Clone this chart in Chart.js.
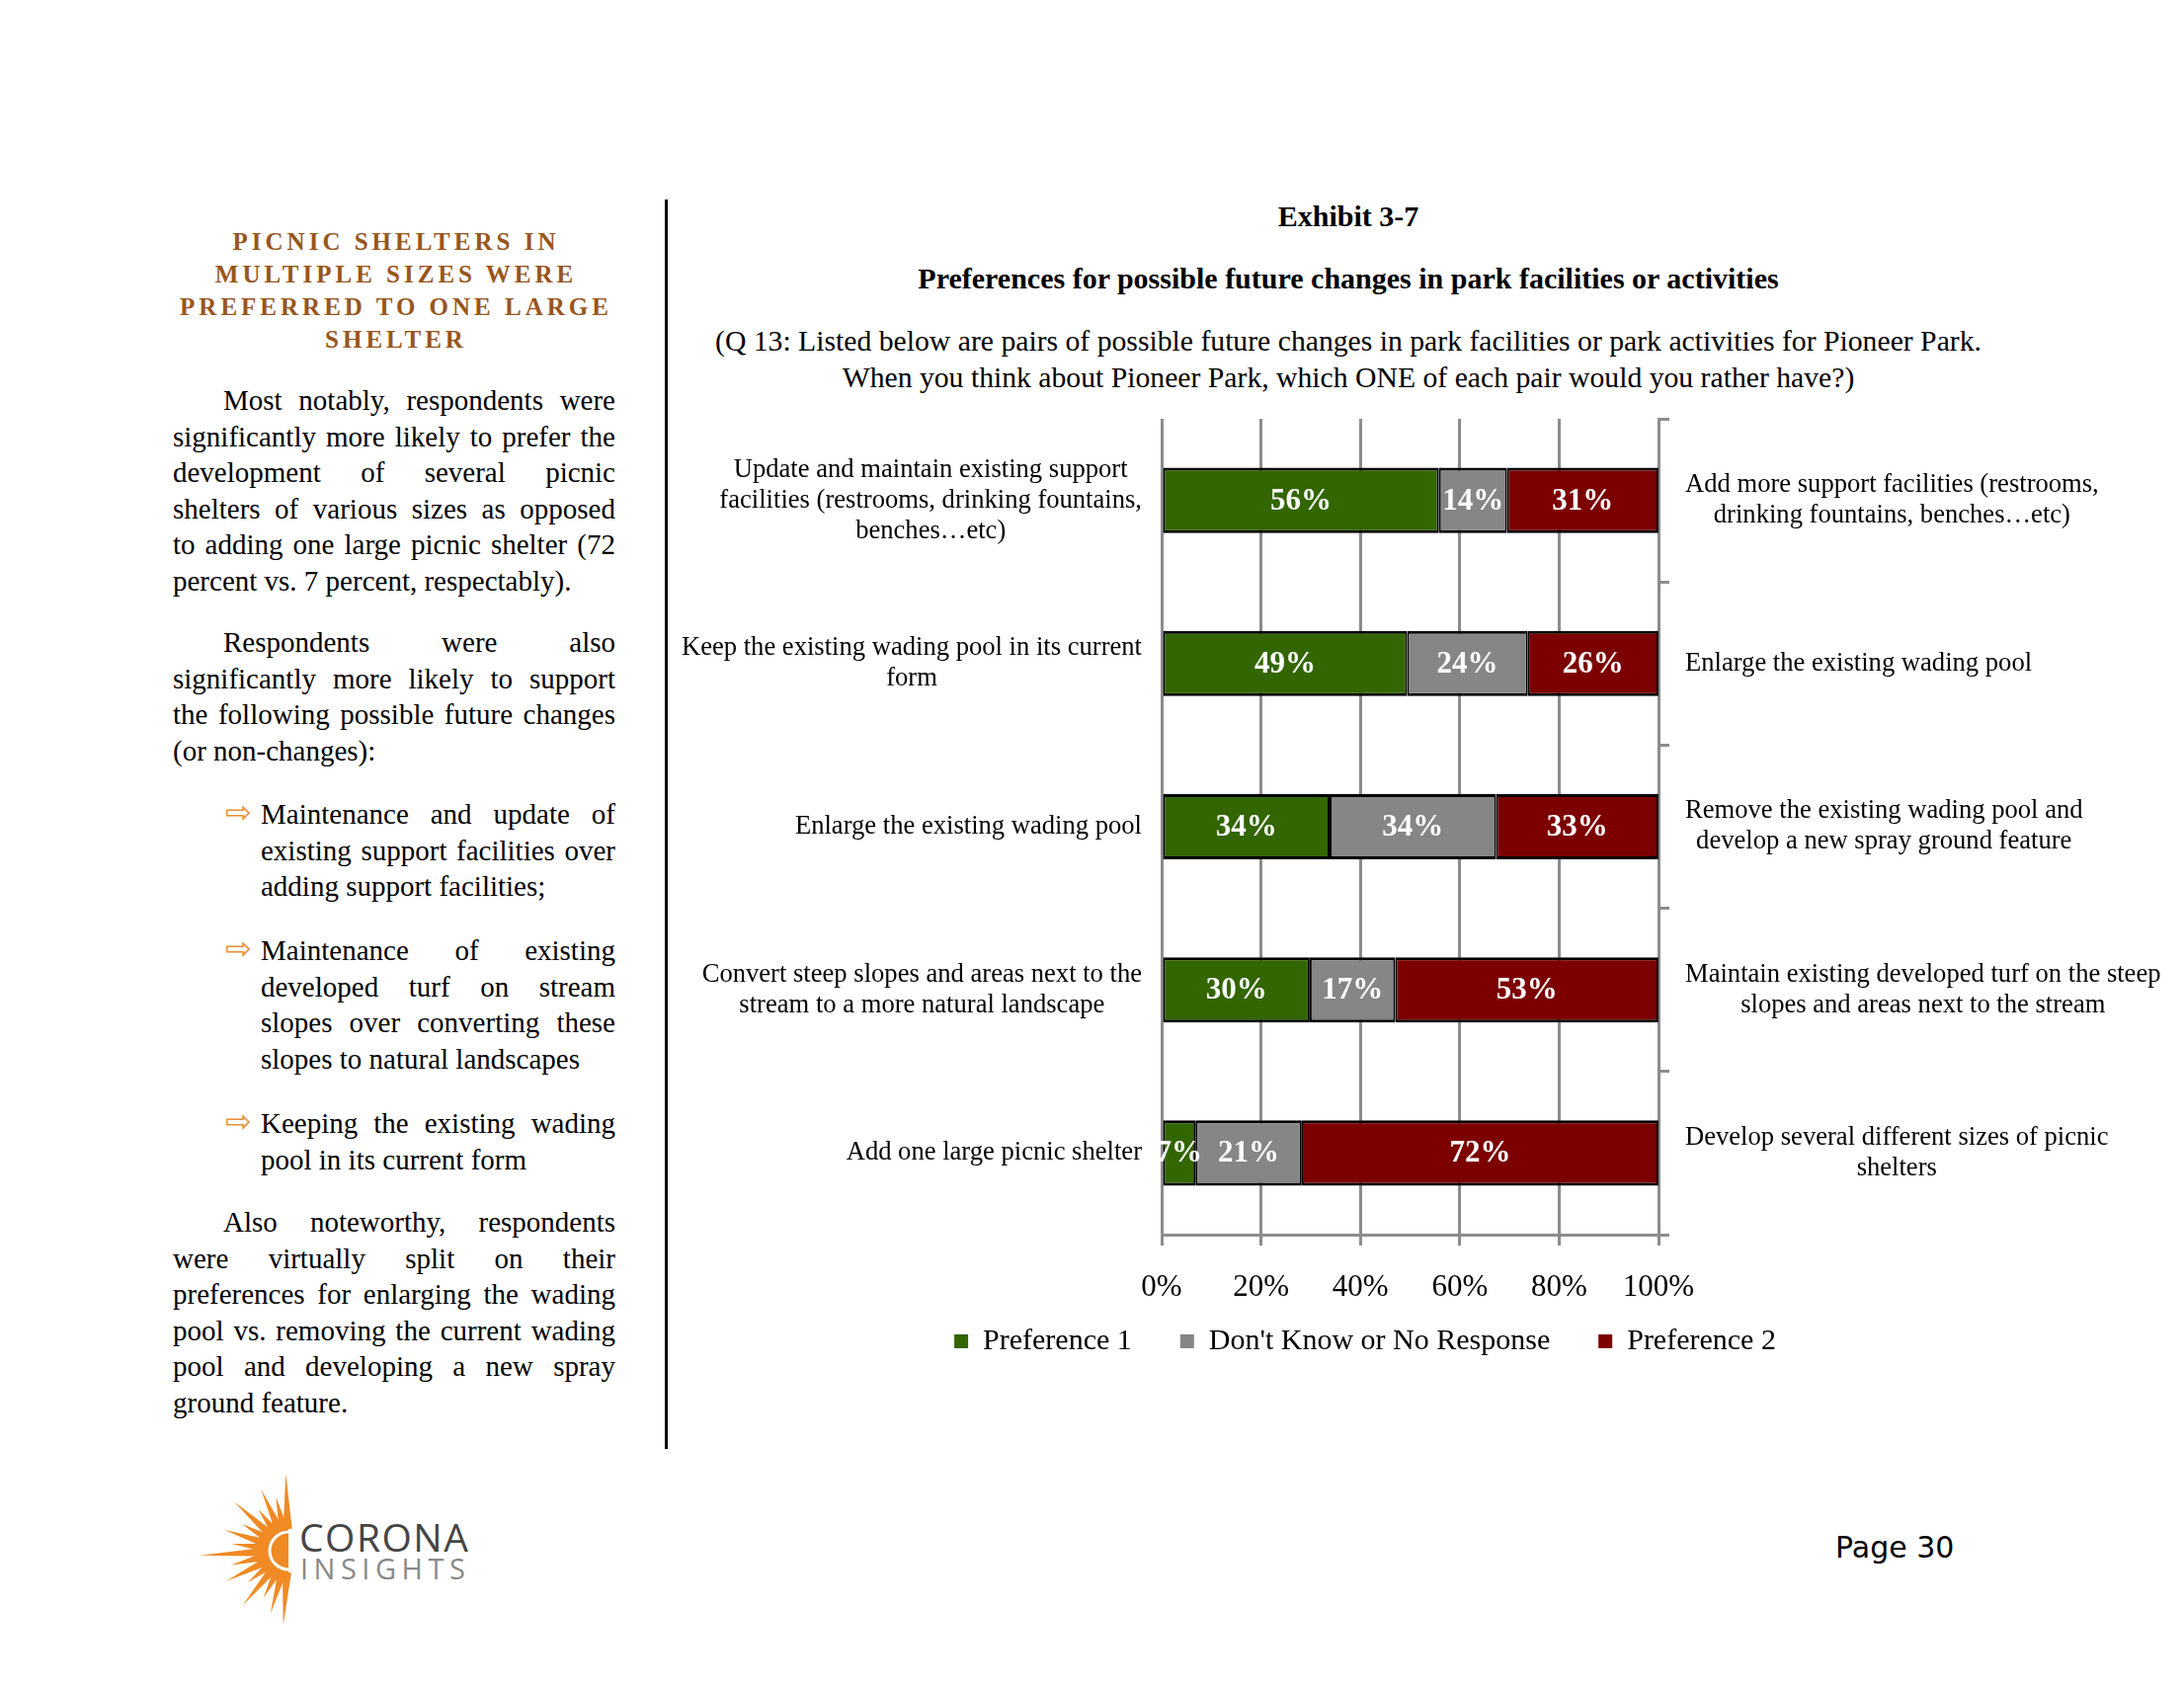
<!DOCTYPE html>
<html><head><meta charset="utf-8">
<script src="https://cdn.jsdelivr.net/npm/chart.js@4/dist/chart.umd.min.js"></script>
<style>
html,body{margin:0;padding:0;background:#fff;}
body{width:2211px;height:1709px;position:relative;overflow:hidden;font-family:"Liberation Serif",serif;color:#000;}
.abs{position:absolute;}
.hd{position:absolute;left:175px;width:452px;text-align:center;font-weight:bold;color:#98561c;font-size:25px;letter-spacing:4px;line-height:33px;}
.blk{position:absolute;font-size:29px;line-height:36.5px;}
.jl{display:flex;justify-content:space-between;white-space:nowrap;}
.ll{white-space:nowrap;}
.arrow{position:absolute;left:228px;font-family:"DejaVu Sans",sans-serif;font-size:32px;line-height:36.5px;color:#e8913a;}
.ctr{position:absolute;left:680px;width:1370px;text-align:center;white-space:nowrap;}
</style></head>
<body>
<!-- left column -->
<div class="hd" style="top:228px">PICNIC SHELTERS IN<br>MULTIPLE SIZES WERE<br>PREFERRED TO ONE LARGE<br>SHELTER</div>

<div class="blk" style="left:175px;top:387px;width:448px">
<div class="jl" style="padding-left:51px">Most notably, respondents were</div>
<div class="jl">significantly more likely to prefer the</div>
<div class="jl">development of several picnic</div>
<div class="jl">shelters of various sizes as opposed</div>
<div class="jl">to adding one large picnic shelter (72</div>
<div class="ll">percent vs. 7 percent, respectably).</div>
</div>

<div class="blk" style="left:175px;top:632px;width:448px">
<div class="jl" style="padding-left:51px">Respondents were also</div>
<div class="jl">significantly more likely to support</div>
<div class="jl">the following possible future changes</div>
<div class="ll">(or non-changes):</div>
</div>

<div class="arrow" style="top:804px">⇨</div>
<div class="blk" style="left:264px;top:806px;width:359px">
<div class="jl">Maintenance and update of</div>
<div class="jl">existing support facilities over</div>
<div class="ll">adding support facilities;</div>
</div>

<div class="arrow" style="top:942px">⇨</div>
<div class="blk" style="left:264px;top:944px;width:359px">
<div class="jl">Maintenance of existing</div>
<div class="jl">developed turf on stream</div>
<div class="jl">slopes over converting these</div>
<div class="ll">slopes to natural landscapes</div>
</div>

<div class="arrow" style="top:1117px">⇨</div>
<div class="blk" style="left:264px;top:1119px;width:359px">
<div class="jl">Keeping the existing wading</div>
<div class="ll">pool in its current form</div>
</div>

<div class="blk" style="left:175px;top:1219px;width:448px">
<div class="jl" style="padding-left:51px">Also noteworthy, respondents</div>
<div class="jl">were virtually split on their</div>
<div class="jl">preferences for enlarging the wading</div>
<div class="jl">pool vs. removing the current wading</div>
<div class="jl">pool and developing a new spray</div>
<div class="ll">ground feature.</div>
</div>

<div class="abs" style="left:673px;top:202px;width:3px;height:1265px;background:#000"></div>

<!-- chart headings -->
<div class="ctr" style="top:201px;font-size:30px;line-height:36px;font-weight:bold">Exhibit 3-7</div>
<div class="ctr" style="top:264px;font-size:30px;line-height:36px;font-weight:bold">Preferences for possible future changes in park facilities or activities</div>
<div class="ctr" style="top:327px;font-size:29.7px;line-height:37px">(Q 13: Listed below are pairs of possible future changes in park facilities or park activities for Pioneer Park.<br>When you think about Pioneer Park, which ONE of each pair would you rather have?)</div>

<canvas id="c" class="abs" style="left:680px;top:400px" width="1531" height="983"></canvas>

<!-- logo -->
<svg class="abs" style="left:190px;top:1480px" width="320" height="175" viewBox="190 1480 320 175">
  <g id="rays" fill="#f08a24"></g>
  <path d="M292,1544 A26,26 0 0 0 292,1596 Z" fill="#f08a24"/>
  <path d="M292,1551 A19,19 0 0 0 292,1589" stroke="#fff" stroke-width="3" fill="none"/>
  <text x="303" y="1571" font-family="Open Sans, DejaVu Sans, sans-serif" font-size="39" fill="#454545" letter-spacing="1.5">CORONA</text>
  <text x="304" y="1599" font-family="Open Sans, Lato, sans-serif" font-weight="400" font-size="29" fill="#8a8a8a" letter-spacing="5.5">INSIGHTS</text>
</svg>

<div class="abs" style="left:1858px;top:1550px;font-family:'DejaVu Sans',sans-serif;font-size:30px;line-height:34px">Page 30</div>

<script>
// ---- data ----
const leftLabels = [
  ["Update and maintain existing support", "facilities (restrooms, drinking fountains,", "benches…etc)"],
  ["Keep the existing wading pool in its current", "form"],
  ["Enlarge the existing wading pool"],
  ["Convert steep slopes and areas next to the", "stream to a more natural landscape"],
  ["Add one large picnic shelter"]
];
const rightLabels = [
  ["Add more support facilities (restrooms,", "drinking fountains, benches…etc)"],
  ["Enlarge the existing wading pool"],
  ["Remove the existing wading pool and", "develop a new spray ground feature"],
  ["Maintain existing developed turf on the steep", "slopes and areas next to the stream"],
  ["Develop several different sizes of picnic", "shelters"]
];
const seriesNames = ["Preference 1", "Don't Know or No Response", "Preference 2"];
const preference1 = [55.8, 49.4, 33.8, 29.8, 6.8];
const dontKnow    = [13.7, 24.3, 33.5, 17.2, 21.4];
const preference2 = [30.5, 26.3, 32.7, 53.0, 71.8];
const xTickMin = 0, xTickMax = 100, xTickStep = 20;

// ---- justify helper for text column ----
document.querySelectorAll('.jl').forEach(el => {
  const words = el.textContent.trim().split(/\s+/);
  el.textContent = '';
  words.forEach(w => { const s = document.createElement('span'); s.textContent = w; el.appendChild(s); });
});

// ---- logo rays ----
(function(){
  const g = document.getElementById('rays');
  const cx = 292, cy = 1570, r0 = 22;
  const rays = [[-88,78],[-77,56],[-66,68],[-54,52],[-42,74],[-30,54],[-18,68],[-7,58],[3,90],[14,60],[26,70],[38,52],[50,72],[62,54],[74,66],[86,75]];
  let html = '';
  rays.forEach(([a,len]) => {
    const r = a*Math.PI/180, dx = -Math.cos(r), dy = Math.sin(r), px = -dy, py = dx, hw = 4.5;
    const p1 = [cx+dx*r0+px*hw, cy+dy*r0+py*hw], p2 = [cx+dx*r0-px*hw, cy+dy*r0-py*hw], p3 = [cx+dx*len, cy+dy*len];
    html += `<polygon points="${p1.join(',')} ${p2.join(',')} ${p3.join(',')}"/>`;
  });
  g.innerHTML = html;
})();

// ---- plugins ----
const valueLabels = {
  id: 'valueLabels',
  afterDatasetsDraw(chart) {
    const ctx = chart.ctx; ctx.save();
    ctx.font = 'bold 31px "Liberation Serif"';
    ctx.fillStyle = '#fff'; ctx.textAlign = 'center'; ctx.textBaseline = 'middle';
    chart.data.datasets.forEach((ds, i) => {
      chart.getDatasetMeta(i).data.forEach((bar, j) => {
        const p = bar.getProps(['x', 'y', 'base'], true);
        ctx.fillText(Math.round(ds.data[j]) + '%', (p.x + p.base) / 2, p.y + 1);
      });
    });
    ctx.restore();
  }
};
const sideLabels = {
  id: 'sideLabels',
  afterDraw(chart) {
    const ctx = chart.ctx, area = chart.chartArea;
    ctx.save();
    ctx.font = '26.6px "Liberation Serif"'; ctx.fillStyle = '#000';
    ctx.textAlign = 'center'; ctx.textBaseline = 'middle';
    const lh = 31;
    const draw = (lines, yc, anchor, side) => {
      const w = Math.max(...lines.map(l => ctx.measureText(l).width));
      const cx = side === 'left' ? anchor - w / 2 : anchor + w / 2;
      const y0 = yc - (lines.length - 1) * lh / 2;
      lines.forEach((l, k) => ctx.fillText(l, cx, y0 + k * lh));
    };
    leftLabels.forEach((lines, i) => draw(lines, chart.scales.y.getPixelForValue(i), area.left - 20, 'left'));
    rightLabels.forEach((lines, i) => draw(lines, chart.scales.y2.getPixelForValue(i), area.right + 27, 'right'));
    ctx.restore();
  }
};
// let the x tick labels extend below the (short) axis box without being clipped
const tickRoom = {
  id: 'tickRoom',
  afterLayout(chart) { chart.scales.x.bottom += 50; }
};

const gridGrey = '#8c8c8c';
const barCommon = { borderColor: '#000', borderWidth: {top: 3, bottom: 3, left: 2, right: 2}, borderSkipped: false, barPercentage: 0.4, categoryPercentage: 1.0 };

new Chart(document.getElementById('c'), {
  type: 'bar',
  data: {
    labels: leftLabels.map(l => l.join(' ')),
    datasets: [
      Object.assign({ label: seriesNames[0], data: preference1, backgroundColor: '#336600' }, barCommon),
      Object.assign({ label: seriesNames[1], data: dontKnow, backgroundColor: '#868686' }, barCommon),
      Object.assign({ label: seriesNames[2], data: preference2, backgroundColor: '#7c0000' }, barCommon)
    ]
  },
  options: {
    indexAxis: 'y',
    responsive: false,
    animation: false,
    devicePixelRatio: 1,
    layout: { padding: { top: 24, left: 0, right: 127, bottom: 0 } },
    scales: {
      x: {
        type: 'linear', stacked: true, min: xTickMin, max: xTickMax, position: 'bottom',
        ticks: { stepSize: xTickStep, callback: v => v + '%', color: '#000', font: { family: 'Liberation Serif', size: 31 }, padding: 24, maxRotation: 0, autoSkip: false },
        grid: { color: gridGrey, lineWidth: 3, drawTicks: true, tickLength: 11 },
        border: { color: gridGrey, width: 3 },
        afterFit: s => { s.height = 44; }
      },
      y: {
        type: 'category', position: 'left', stacked: true, offset: true,
        grid: { display: false, offset: true }, border: { display: false },
        ticks: { display: false },
        afterFit: s => { s.width = 496; }
      },
      y2: {
        type: 'category', position: 'right', labels: rightLabels.map(l => l.join(' ')), offset: true, z: 1,
        grid: { display: true, offset: true, drawOnChartArea: false, drawTicks: true, tickLength: 11, color: gridGrey, lineWidth: 3 },
        border: { display: true, color: gridGrey, width: 3 },
        ticks: { display: false },
        afterFit: s => { s.width = 405; }
      }
    },
    plugins: {
      tooltip: { enabled: false },
      legend: {
        position: 'bottom',
        labels: {
          boxWidth: 14, boxHeight: 14, padding: 49, color: '#000',
          font: { family: 'Liberation Serif', size: 30 },
          generateLabels: chart => Chart.defaults.plugins.legend.labels.generateLabels(chart).map(l => Object.assign(l, { lineWidth: 0, strokeStyle: 'rgba(0,0,0,0)' }))
        }
      }
    }
  },
  plugins: [valueLabels, sideLabels, tickRoom]
});
</script>
</body></html>
